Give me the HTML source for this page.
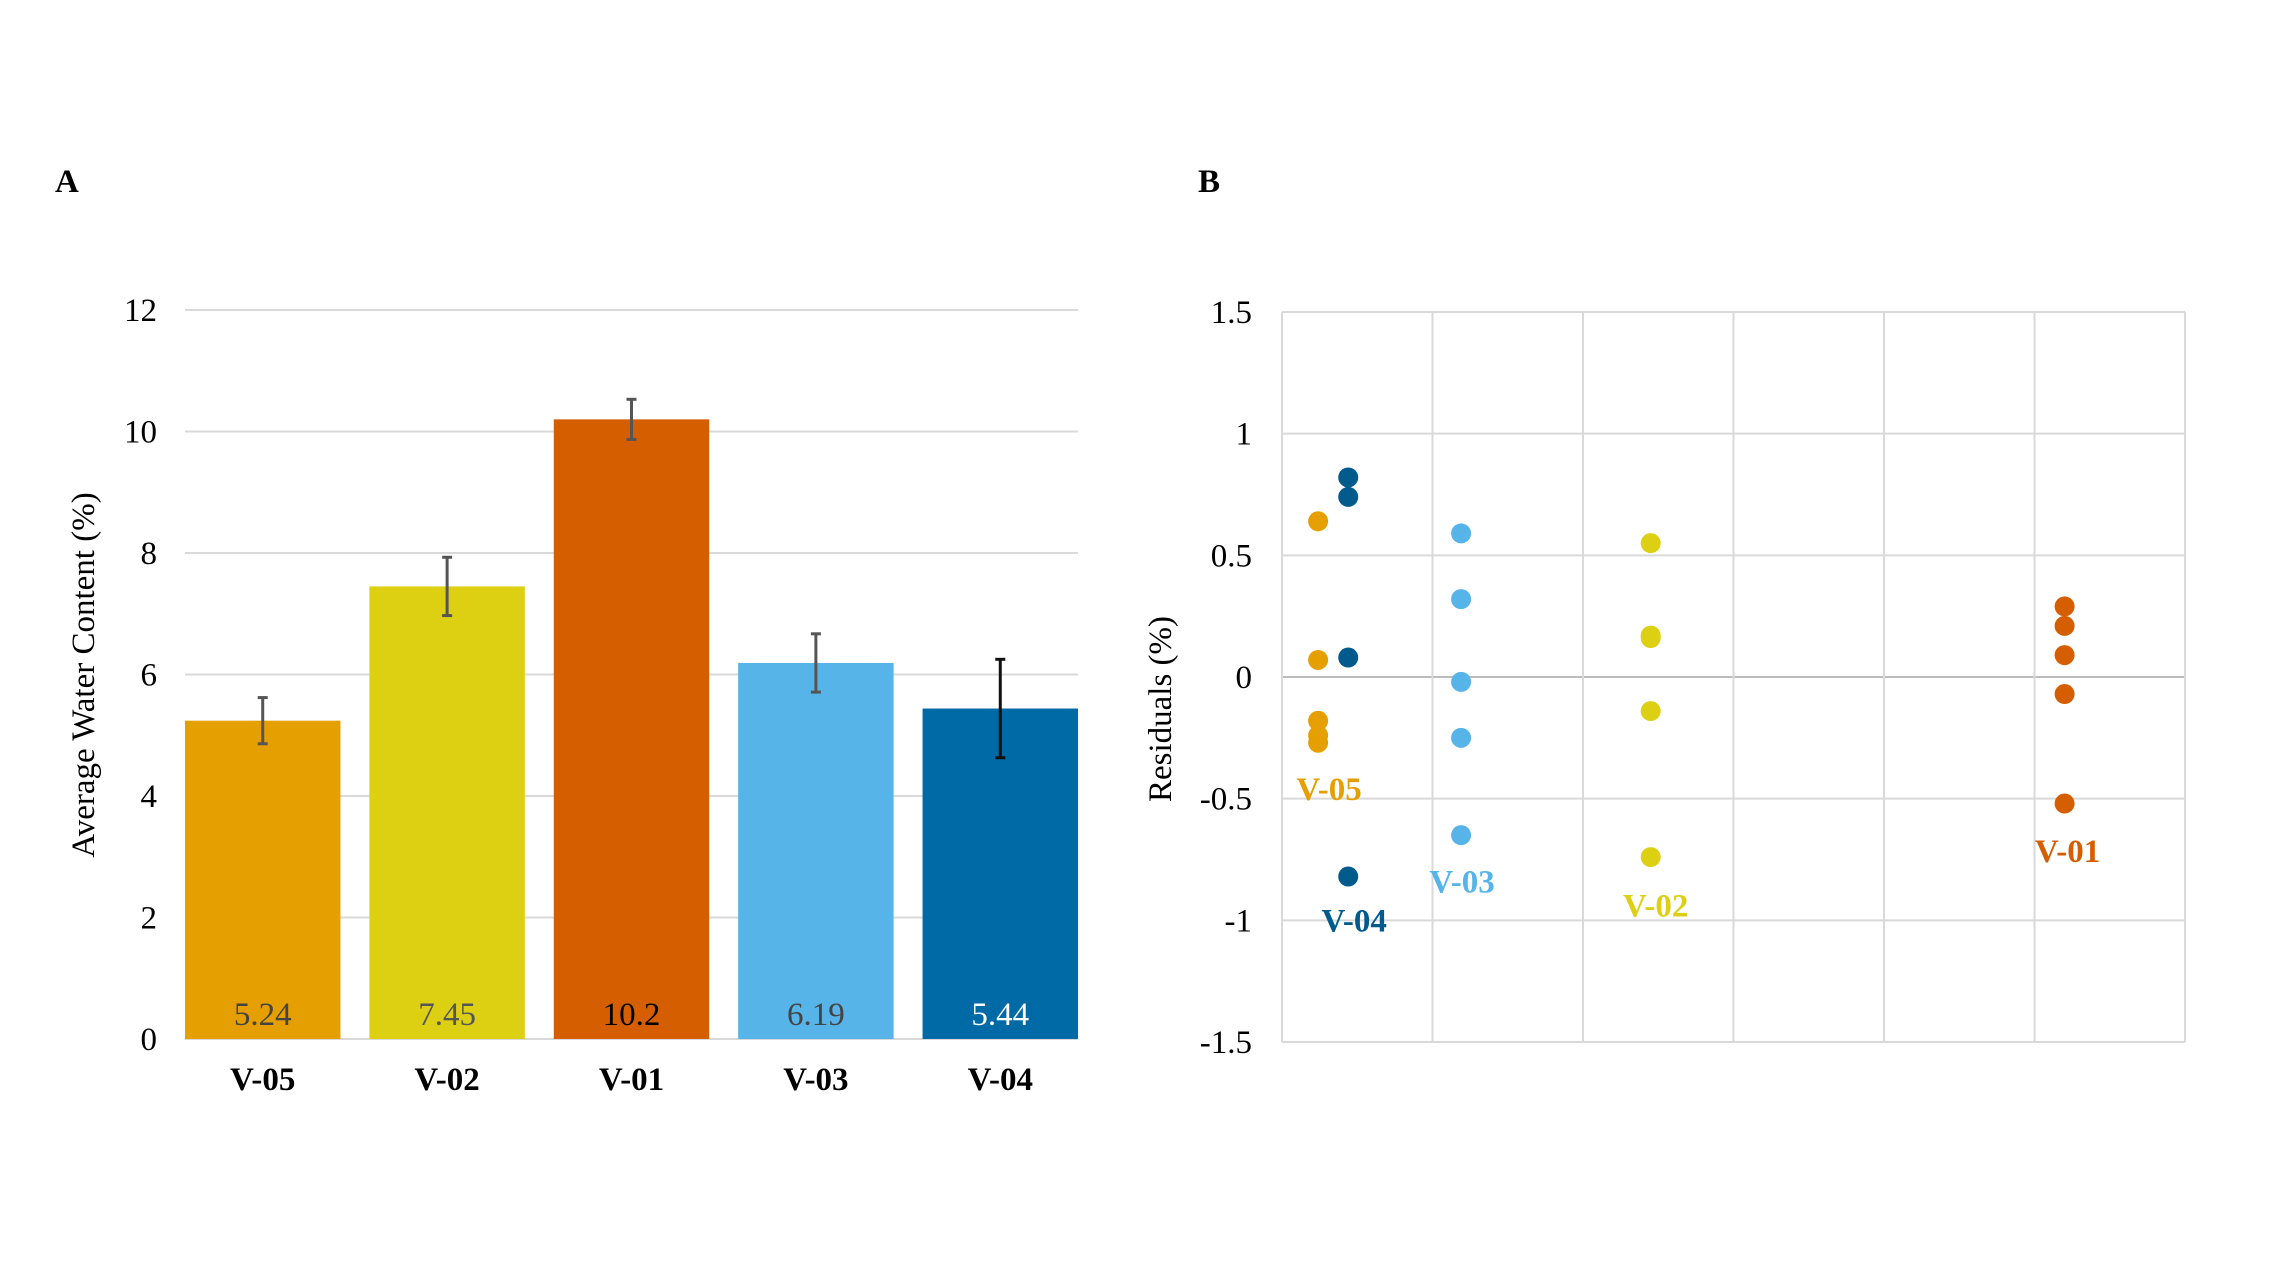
<!DOCTYPE html>
<html><head><meta charset="utf-8"><style>
html,body{margin:0;padding:0;background:#fff;}
svg{display:block;font-family:"Liberation Serif",serif;}
</style></head><body>
<svg id="c" width="2280" height="1283" viewBox="0 0 2280 1283" xmlns="http://www.w3.org/2000/svg">
<text x="55" y="192" font-size="33" font-weight="bold">A</text>
<text x="1198" y="192" font-size="33" font-weight="bold">B</text>
<g id="ga"></g>
<g id="gb"></g>
<text transform="translate(94,675) rotate(-90)" text-anchor="middle" font-size="33">Average Water Content (%)</text>
<text transform="translate(1171,709) rotate(-90)" text-anchor="middle" font-size="33">Residuals (%)</text>
</svg>
<script>
const categories=["V-05","V-02","V-01","V-03","V-04"];
const means=[5.24,7.45,10.2,6.19,5.44];
const errors=[0.38,0.48,0.33,0.48,0.81];
const colors=["#E69F00","#DDCF12","#D55E00","#56B4E9","#006AA6"];
const labelColors=["#444","#555","#000","#444","#fff"];
const yTicksA=[0,2,4,6,8,10,12];
const resid05=[0.64,0.07,-0.18,-0.24,-0.27];
const resid04=[0.82,0.74,0.08,-0.82];
const resid03=[0.59,0.32,-0.02,-0.25,-0.65];
const resid02=[0.55,0.17,0.16,-0.14,-0.74];
const resid01=[0.29,0.21,0.09,-0.07,-0.52];
const yTicksB=[-1.5,-1,-0.5,0,0.5,1,1.5];
const xTicksB=[5,6,7,8,9,10,11];
const NS="http://www.w3.org/2000/svg";
function mk(p,t,a){const e=document.createElementNS(NS,t);for(const k in a)e.setAttribute(k,a[k]);p.appendChild(e);return e;}
// Chart A
const ga=document.getElementById('ga');
const AX0=185,AX1=1078,AY0=1039,AY1=310;
const ya=v=>AY0-(v/12)*(AY0-AY1);
const band=(AX1-AX0)/(categories.length-1+0.843), bw=band*0.843;
yTicksA.forEach(t=>{
 const l=mk(ga,'line',{x1:AX0,x2:AX1,y1:ya(t),y2:ya(t),stroke:'#d9d9d9','stroke-width':2});
 
 
 const tx=mk(ga,'text',{x:157,y:ya(t)+11,'text-anchor':'end','font-size':33});
 tx.textContent=t;
 
 
});
categories.forEach((c,i)=>{
 const x=AX0+i*band, cx=x+bw/2;
 const r=mk(ga,'rect',{x:x,y:ya(means[i]),width:bw,height:AY0-ya(means[i]),fill:colors[i]});
 
 
 const ec=i==4?'#111':'#555';
 const eg=mk(ga,'g',{stroke:ec,'stroke-width':3});
 
 
 const yh=ya(means[i]+errors[i]), yl=ya(means[i]-errors[i]);
 mk(eg,'line',{x1:cx,x2:cx,y1:yh,y2:yl});
 mk(eg,'line',{x1:cx-5,x2:cx+5,y1:yh,y2:yh});
 mk(eg,'line',{x1:cx-5,x2:cx+5,y1:yl,y2:yl});
 const vl=mk(ga,'text',{x:cx,y:1025,'text-anchor':'middle','font-size':33,fill:labelColors[i]});
 vl.textContent=means[i];
 
 
 const xl=mk(ga,'text',{x:cx,y:1090,'text-anchor':'middle','font-size':33,'font-weight':'bold'});
 xl.textContent=c;
 
 
});
// Chart B
const gb=document.getElementById('gb');
const BX0=1282,BX1=2185,BY0=1042,BY1=312;
const xb=v=>BX0+(v-5)/6*(BX1-BX0);
const yb=v=>BY0-(v+1.5)/3*(BY0-BY1);
yTicksB.forEach(t=>{
 const l=mk(gb,'line',{x1:BX0,x2:BX1,y1:yb(t),y2:yb(t),stroke:t==0?'#bcbcbc':'#d9d9d9','stroke-width':2});
 
 
 const tx=mk(gb,'text',{x:1252,y:yb(t)+11,'text-anchor':'end','font-size':33});
 tx.textContent=t;
 
 
});
xTicksB.forEach(t=>{
 const l=mk(gb,'line',{x1:xb(t),x2:xb(t),y1:BY1,y2:BY0,stroke:'#d9d9d9','stroke-width':2});
 
 
});
const series=[[resid05,5.24,"#E69F00","V-05",11,-0.46],[resid04,5.44,"#005A8C","V-04",6,-1.0],[resid03,6.19,"#56B4E9","V-03",1,-0.84],[resid02,7.45,"#DDCF12","V-02",5,-0.94],[resid01,10.2,"#D55E00","V-01",3,-0.715]];
series.forEach(s=>{
 const [vals,mx,col,name,dx,ly]=s;
 vals.forEach(v=>{
  const d=mk(gb,'circle',{cx:xb(mx),cy:yb(v),r:10,fill:col});
  
  
 });
 const t=mk(gb,'text',{x:xb(mx)+dx,y:yb(ly)+11,'text-anchor':'middle','font-size':33,'font-weight':'bold',fill:col});
 t.textContent=name;
 
 
});
</script>
</body></html>
